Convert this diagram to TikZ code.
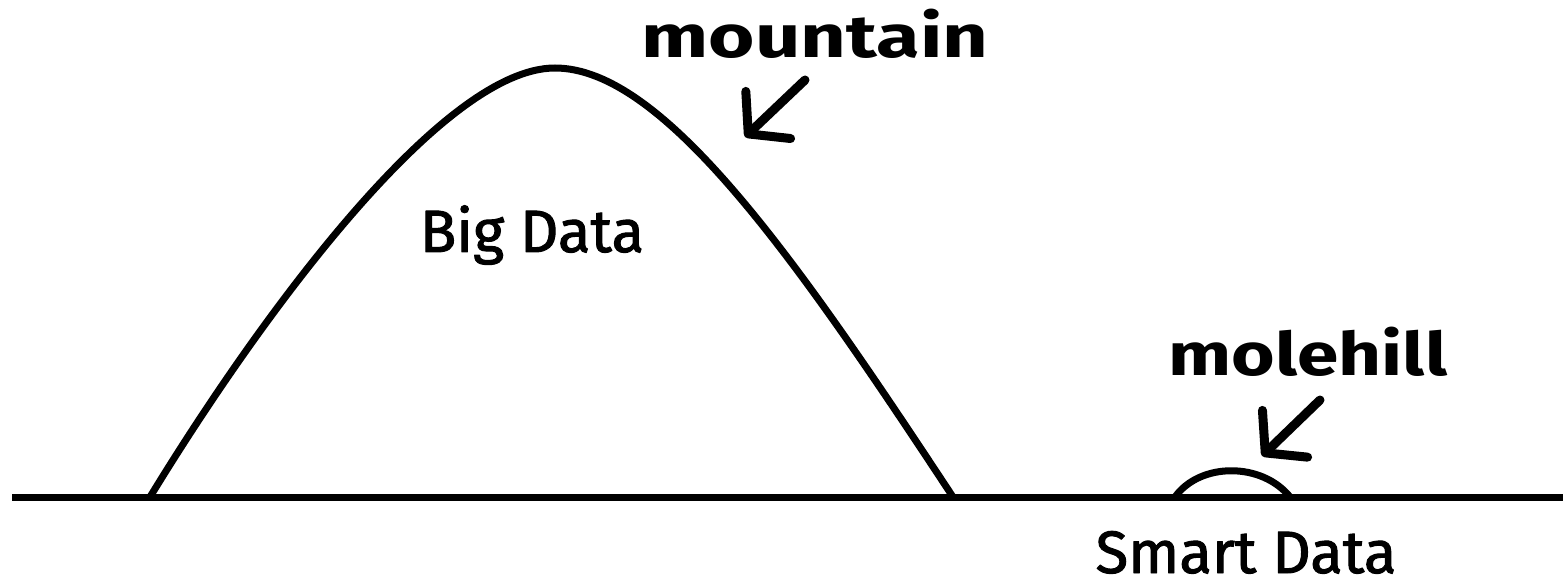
\documentclass[tikz,border=0pt]{standalone}
\usepackage{fontspec}
\setmainfont{Fira Sans}
\newfontfamily\tafelschrift[FakeBold=1.6]{Fira Sans}
\usepackage{tikz, graphicx}
\usetikzlibrary{arrows.meta}
\definecolor{ink}{RGB}{0,0,0}

\begin{document}
\begin{tikzpicture}[x=0.2mm, y=-0.2mm, line join=round,
    linie/.style={ink, line width=1.4mm},
    pfeil/.style={ink, line width=1.8mm, line cap=round,
      -{Straight Barb[length=5.5mm, width=13mm, round]}},
    schild/.style={font=\tafelschrift\fontsize{34}{40}\selectfont, anchor=base, inner sep=0pt},
    hand/.style={font=\fontsize{34}{40}\selectfont\bfseries, anchor=base, inner sep=0pt}]
  % Bildbereich
  \useasboundingbox (0,0) rectangle (1563,587);
  % Boden
  \draw[linie] (12,497) -- (1563,497);
  % Berg
  \draw[linie] (150,497) .. controls (255,325) and (440,68) .. (555,68)
    .. controls (665,68) and (800,265) .. (953,497);
  % Maulwurfshuegel
  \draw[linie] (1175,497) .. controls (1200,462) and (1262,462) .. (1290,497);
  % Beschriftung
  \node[schild] (bigdata) at (532,252) {Big Data};
  \node[schild] (smartdata) at (1246,573) {Smart Data};
  \node[hand] (berg) at (815,58) {\scalebox{1.33}[1]{mountain}};
  \node[hand] (huegel) at (1308,375) {\scalebox{1.25}[1]{molehill}};
  % Pfeile
  \coordinate (bergvon) at (805,80);
  \coordinate (bergzu) at (745,137);
  \coordinate (huegelvon) at (1320,400);
  \coordinate (huegelzu) at (1262,456);
  \draw[pfeil] (bergvon) -- (bergzu);
  \draw[pfeil] (huegelvon) -- (huegelzu);
\end{tikzpicture}
\end{document}
